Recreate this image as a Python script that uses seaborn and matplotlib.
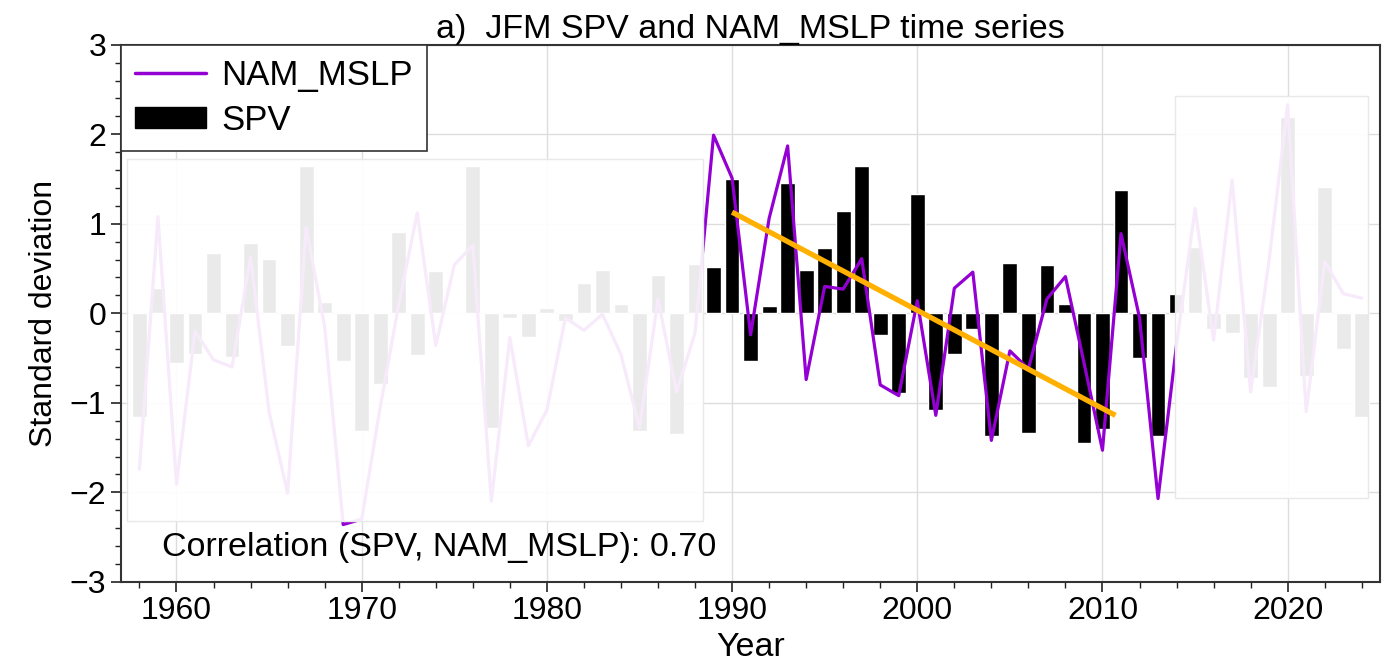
import matplotlib
matplotlib.use("Agg")
import matplotlib.pyplot as plt
from matplotlib.patches import Rectangle, Patch
from matplotlib.lines import Line2D
from matplotlib.ticker import MultipleLocator
import pandas as pd
import seaborn as sns

# JFM standardized indices, 1958-2024
years = list(range(1958, 2025))
spv = [-1.16, 0.28, -0.56, -0.46, 0.67, -0.49, 0.79, 0.61, -0.36, 1.64,
       0.13, -0.53, -1.31, -0.79, 0.91, -0.47, 0.47, 0.00, 1.64, -1.28,
       -0.05, -0.27, 0.06, -0.09, 0.34, 0.48, 0.10, -1.31, 0.43, -1.35,
       0.55, 0.52, 1.50, -0.53, 0.08, 1.46, 0.48, 0.73, 1.14, 1.65,
       -0.24, -0.89, 1.33, -1.08, -0.46, -0.17, -1.37, 0.56, -1.34, 0.54,
       0.10, -1.45, -1.29, 1.38, -0.50, -1.37, 0.22, 0.74, -0.18, -0.22,
       -0.72, -0.82, 2.19, -0.70, 1.41, -0.40, -1.16]
nam_mslp = [-1.74, 1.08, -1.91, -0.20, -0.52, -0.60, 0.63, -1.10, -2.01, 0.96,
            -0.15, -2.36, -2.30, -1.05, 0.10, 1.12, -0.36, 0.54, 0.76, -2.10,
            -0.27, -1.48, -1.08, -0.05, -0.19, -0.01, -0.46, -1.28, 0.16, -0.88,
            -0.22, 1.99, 1.51, -0.24, 1.06, 1.87, -0.74, 0.30, 0.27, 0.61,
            -0.80, -0.92, 0.14, -1.14, 0.28, 0.46, -1.42, -0.42, -0.62, 0.16,
            0.41, -0.55, -1.53, 0.89, -0.05, -2.07, -0.35, 1.17, -0.30, 1.49,
            -0.88, 0.60, 2.33, -1.10, 0.58, 0.22, 0.17]

# trend over the highlighted period
trend_years = [1990, 2010.7]
trend_values = [1.13, -1.14]
correlation = 0.70

# semi-transparent boxes that fade the periods outside the focus window
fade_boxes = [(1957.33, 1988.45, -2.32, 1.72), (2013.92, 2024.35, -2.06, 2.43)]

df = pd.DataFrame({"Year": years, "SPV": spv, "NAM_MSLP": nam_mslp})

sns.set_theme(style="ticks")
plt.rcParams["font.family"] = ["Liberation Sans", "DejaVu Sans"]
plt.rcParams.update({"text.color": "black", "axes.labelcolor": "black",
                     "xtick.color": "black", "ytick.color": "black"})

purple = "#9400d3"
orange = "#ffb000"

fig, ax = plt.subplots(figsize=(13.9, 6.68), dpi=100)
fig.subplots_adjust(left=0.087, right=0.993, top=0.933, bottom=0.129)

sns.barplot(data=df, x="Year", y="SPV", native_scale=True, color="black",
            saturation=1, width=0.8, errorbar=None, ax=ax, zorder=2)
sns.lineplot(data=df, x="Year", y="NAM_MSLP", color=purple, lw=2.3,
             ax=ax, zorder=3, legend=False)

for x0, x1, y0, y1 in fade_boxes:
    ax.add_patch(Rectangle((x0, y0), x1 - x0, y1 - y0,
                           facecolor=(1, 1, 1, 0.92), edgecolor="#e8e8e8",
                           lw=1, zorder=4))

ax.plot(trend_years, trend_values, color=orange, lw=3.8, zorder=5,
        solid_capstyle="butt")

ax.text(0.033, 0.063, f"Correlation (SPV, NAM_MSLP): {correlation:.2f}",
        transform=ax.transAxes, fontsize=24.5, va="center", ha="left", zorder=6)

ax.set_xlim(1957, 2025)
ax.set_ylim(-3, 3)
ax.xaxis.set_major_locator(MultipleLocator(10))
ax.xaxis.set_minor_locator(MultipleLocator(2))
ax.yaxis.set_major_locator(MultipleLocator(1))
ax.yaxis.set_minor_locator(MultipleLocator(0.2))
ax.tick_params(which="major", direction="out", length=7, width=1.2,
               labelsize=23, color="#222222")
ax.tick_params(which="minor", direction="out", length=4, width=1,
               color="#222222")
ax.set_axisbelow(True)
ax.grid(True, which="major", color="#dddddd", lw=1)
for sp in ax.spines.values():
    sp.set_color("#333333")
    sp.set_linewidth(1.5)

ax.set_xlabel("Year", fontsize=24.5, labelpad=4)
ax.set_ylabel("Standard deviation", fontsize=23, labelpad=8)
ax.set_title("a)  JFM SPV and NAM_MSLP time series", fontsize=24.5, pad=5)

handles = [Line2D([0], [0], color=purple, lw=2.5),
           Patch(facecolor="black", edgecolor="black")]
leg = ax.legend(handles, ["NAM_MSLP", "SPV"], loc="upper left",
                borderaxespad=0, fancybox=False, framealpha=1,
                edgecolor="#333333", fontsize=25, handlelength=2.05,
                handleheight=0.58, handletextpad=0.45, labelspacing=0.35,
                borderpad=0.4)
leg.get_frame().set_linewidth(1.2)
leg.set_zorder(10)

fig.savefig("out.png", dpi=100)
